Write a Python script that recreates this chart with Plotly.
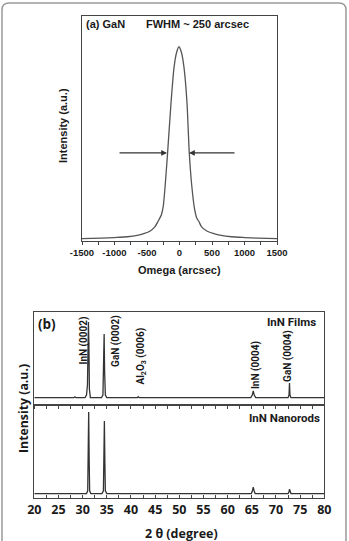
import plotly.graph_objects as go

W, H = 349, 541

# ---------------- Panel (a): GaN rocking curve ----------------
omega = [-1500, -1200, -1000, -800, -650, -550, -450, -380, -330, -280, -250, -220, -185, -130, -85, -45, -8,
         30, 70, 115, 150, 188, 230, 265, 300, 340, 420, 530, 640, 800, 1000, 1200, 1500]
intensity_a = [0.2, 0.5, 0.8, 1.2, 1.9, 2.8, 4.2, 6.3, 9.2, 12.5, 17, 28, 44, 71, 89, 97, 100,
               97, 89, 71, 45, 28, 16, 11, 9, 6.3, 4.2, 2.8, 1.9, 1.2, 0.8, 0.5, 0.2]
a_tickvals = [-1500, -1000, -500, 0, 500, 1000, 1500]
a_ticktext = ["-1500", "-1000", "-500", "0", "500", "1000", "1500"]
fwhm_left = [-946, -192]   # arrow tail, head
fwhm_right = [869, 146]
fwhm_level = 44.8

# ---------------- Panel (b): XRD 2theta scans ----------------
films_x = [20, 28.2, 28.4, 28.6, 30.5, 30.8, 31.0, 31.1, 31.2, 31.3, 31.4, 31.6,
           33.9, 34.2, 34.35, 34.45, 34.55, 34.7, 35.0, 41.3, 41.5, 41.7,
           64.8, 65.1, 65.3, 65.5, 65.8, 72.5, 72.7, 72.8, 72.9, 73.1, 80]
films_y = [0, 0, 1, 0, 0, 3, 15, 60, 88, 60, 10, 0,
           0, 3, 40, 74, 30, 3, 0, 0, 1.2, 0,
           0, 3, 7.7, 3, 0, 0, 3, 17, 3, 0, 0]
rods_x = [20, 30.8, 31.05, 31.15, 31.25, 31.35, 31.45, 31.7,
          34.0, 34.3, 34.4, 34.5, 34.6, 34.7, 35.0,
          64.9, 65.1, 65.3, 65.5, 65.7, 72.5, 72.7, 72.8, 72.9, 73.1, 80]
rods_y = [0, 0, 3, 40, 91.5, 40, 3, 0,
          0, 3, 40, 81.5, 35, 3, 0,
          0, 2.5, 7.3, 2.5, 0, 0, 2, 5, 2, 0, 0]
b_tickvals = [20, 25, 30, 35, 40, 45, 50, 55, 60, 65, 70, 75, 80]
peak_labels = ["InN (0002)", "GaN (0002)", "Al<sub>2</sub>O<sub>3</sub> (0006)", "InN (0004)", "GaN (0004)"]
peak_label_x = [30.2, 36.9, 42.1, 65.9, 72.6]
peak_label_y = [66, 66, 48, 38, 48]

LINE = "#333333"
TXT = "#1a1a1a"

def px_x(p):
    return p / W

def px_y(p):
    return (H - p) / H

fig = go.Figure()
fig.add_trace(go.Scatter(x=omega, y=intensity_a, mode="lines", line=dict(color="#555555", width=1.3, shape="spline", smoothing=0.6),
                         xaxis="x", yaxis="y", showlegend=False, hoverinfo="skip"))
fig.add_trace(go.Scatter(x=films_x, y=films_y, mode="lines", line=dict(color=LINE, width=1.3),
                         xaxis="x2", yaxis="y2", showlegend=False, hoverinfo="skip"))
fig.add_trace(go.Scatter(x=rods_x, y=rods_y, mode="lines", line=dict(color=LINE, width=1.3),
                         xaxis="x3", yaxis="y3", showlegend=False, hoverinfo="skip"))

fa = "Liberation Sans"
fb = "Roboto"
fc = "Open Sans"

frame = dict(showline=True, linecolor="#444444", linewidth=1, mirror=True, showgrid=False, zeroline=False, automargin=False)

fig.update_layout(
    width=W, height=H, margin=dict(l=0, r=0, t=0, b=0),
    paper_bgcolor="white", plot_bgcolor="white",
    xaxis=dict(domain=[px_x(82), px_x(277)], range=[-1500, 1500], anchor="y",
               tickmode="array", tickvals=a_tickvals, ticktext=a_ticktext,
               ticks="outside", ticklen=3, tickcolor="#444444",
               minor=dict(ticks="outside", ticklen=3, dtick=250, tickcolor="#444444"),
               tickfont=dict(family=fa, size=9.5, color=TXT, weight="bold"), **frame),
    yaxis=dict(domain=[px_y(241), px_y(16)], range=[-1, 116], anchor="x",
               showticklabels=False, ticks="", **frame),
    xaxis2=dict(domain=[px_x(34.3), px_x(324.3)], range=[20, 80], anchor="y2",
                tickmode="array", tickvals=b_tickvals, showticklabels=False,
                ticks="outside", ticklen=3, tickcolor="#444444",
                minor=dict(ticks="outside", ticklen=3, dtick=2.5, tickcolor="#444444"), **frame),
    yaxis2=dict(domain=[px_y(404.5), px_y(311.7)], range=[-8, 100], anchor="x2",
                showticklabels=False, ticks="", **frame),
    xaxis3=dict(domain=[px_x(34.3), px_x(324.3)], range=[20, 80], anchor="y3",
                tickmode="array", tickvals=b_tickvals,
                ticks="inside", ticklen=3, tickcolor="#444444",
                minor=dict(ticks="inside", ticklen=3, dtick=2.5, tickcolor="#444444"),
                tickfont=dict(family=fc, size=12.5, color=TXT, weight="bold"), **frame),
    yaxis3=dict(domain=[px_y(498), px_y(404.5)], range=[-5, 100], anchor="x3",
                showticklabels=False, ticks="", **frame),
)

ann = []
# panel (a) texts
ann.append(dict(text="(a) GaN", x=px_x(84), y=px_y(24), xref="paper", yref="paper", xanchor="left", yanchor="middle",
                showarrow=False, font=dict(family=fa, size=11, color=TXT, weight="bold")))
ann.append(dict(text="FWHM ~ 250 arcsec", x=px_x(197), y=px_y(24), xref="paper", yref="paper", xanchor="center", yanchor="middle",
                showarrow=False, font=dict(family=fa, size=11, color=TXT, weight="bold")))
ann.append(dict(text="Intensity (a.u.)", x=px_x(63), y=px_y(126), xref="paper", yref="paper", xanchor="center", yanchor="middle",
                textangle=-90, showarrow=False, font=dict(family=fa, size=11, color=TXT, weight="bold")))
ann.append(dict(text="Omega (arcsec)", x=px_x(179), y=px_y(270), xref="paper", yref="paper", xanchor="center", yanchor="middle",
                showarrow=False, font=dict(family=fa, size=11, color=TXT, weight="bold")))
for tail, head in (fwhm_left, fwhm_right):
    ann.append(dict(text="", x=head, y=fwhm_level, ax=tail, ay=fwhm_level, xref="x", yref="y", axref="x", ayref="y",
                    showarrow=True, arrowhead=2, arrowsize=0.9, arrowwidth=1.3, arrowcolor="#333333", standoff=0))

# panel (b) texts
ann.append(dict(text="(b)", x=px_x(36), y=px_y(323.5), xref="paper", yref="paper", xanchor="left", yanchor="middle",
                showarrow=False, font=dict(family=fc, size=13.5, color=TXT, weight="bold")))
ann.append(dict(text="InN Films", x=px_x(318), y=px_y(322), xref="paper", yref="paper", xanchor="right", yanchor="middle",
                showarrow=False, font=dict(family=fb, size=11.5, color=TXT, weight="bold")))
ann.append(dict(text="InN Nanorods", x=px_x(322), y=px_y(418), xref="paper", yref="paper", xanchor="right", yanchor="middle",
                showarrow=False, font=dict(family=fb, size=11.5, color=TXT, weight="bold")))
for t, xv, yv in zip(peak_labels, peak_label_x, peak_label_y):
    ann.append(dict(text=t, x=xv, y=yv, xref="x2", yref="y2", xanchor="center", yanchor="middle", textangle=-90,
                    showarrow=False, font=dict(family=fb, size=10, color=TXT, weight="bold")))
ann.append(dict(text="Intensity (a.u.)", x=px_x(23), y=px_y(408), xref="paper", yref="paper", xanchor="center", yanchor="middle",
                textangle=-90, showarrow=False, font=dict(family=fc, size=12.3, color=TXT, weight="bold")))
ann.append(dict(text="2 \u03b8 (degree)", x=px_x(182), y=px_y(533), xref="paper", yref="paper", xanchor="center", yanchor="middle",
                showarrow=False, font=dict(family=fc, size=12.5, color=TXT, weight="bold")))
fig.update_layout(annotations=ann)

# outer rounded frame
x0, x1, yt, yb, r = 2, 346, 3, 548, 7
def P(x, y):
    return f"{px_x(x):.5f},{px_y(y):.5f}"
path = (f"M {P(x0 + r, yt)} L {P(x1 - r, yt)} Q {P(x1, yt)} {P(x1, yt + r)} L {P(x1, yb)} "
        f"L {P(x0, yb)} L {P(x0, yt + r)} Q {P(x0, yt)} {P(x0 + r, yt)} Z")
fig.add_shape(type="path", path=path, xref="paper", yref="paper", line=dict(color="#9a9a9a", width=1.5), layer="below")

fig.write_html("out.html")
